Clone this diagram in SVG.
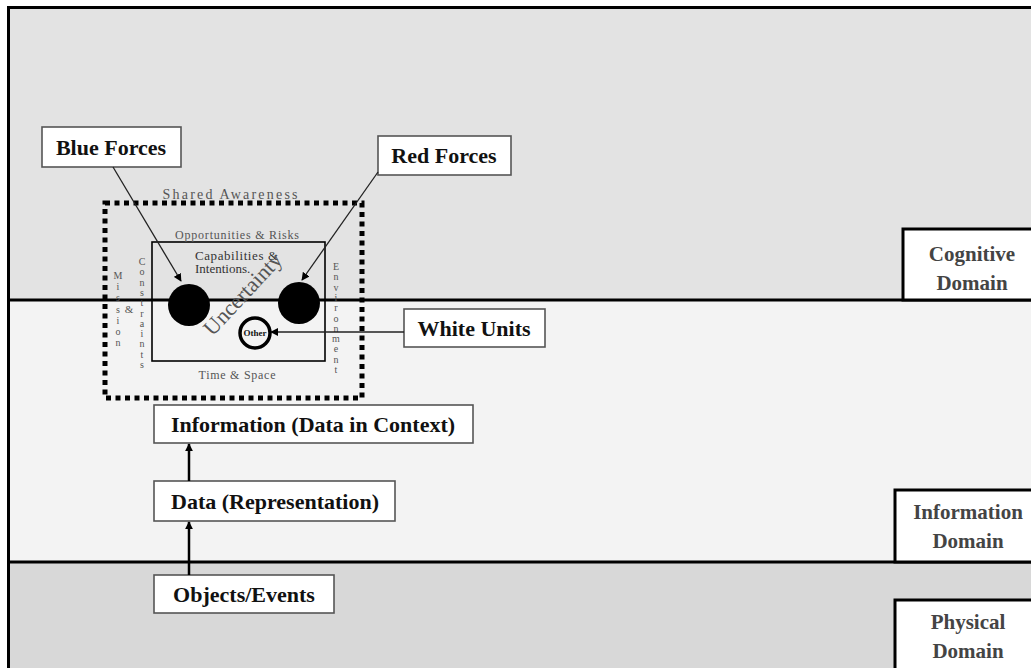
<svg xmlns="http://www.w3.org/2000/svg" width="1031" height="668" viewBox="0 0 1031 668">
<style>
.box{fill:#fff;stroke:#555;stroke-width:1.6}
.dom{fill:#fff;stroke:#000;stroke-width:3}
.bt{font-family:"Liberation Serif","Times New Roman",serif;font-weight:bold;font-size:22px;fill:#111;text-anchor:middle}
.dt{font-family:"Liberation Serif","Times New Roman",serif;font-weight:bold;font-size:21px;fill:#444;text-anchor:middle}
.st{font-family:"Liberation Serif","Times New Roman",serif;fill:#555;text-anchor:middle}
.vt{font-family:"Liberation Serif","Times New Roman",serif;font-size:10px;fill:#555;writing-mode:vertical-rl;text-orientation:upright}
.conn{stroke:#222;stroke-width:1.3;fill:none}
</style>
<defs>
<marker id="ah" viewBox="0 0 10 10" refX="9" refY="5" markerWidth="8" markerHeight="8" markerUnits="userSpaceOnUse" orient="auto">
<path d="M0,0 L10,5 L0,10 z" fill="#000"/>
</marker>
</defs>
<rect x="0" y="0" width="1031" height="668" fill="#fff"/>
<g id="domains">
<rect x="8" y="7" width="1023" height="293" fill="#e3e3e3"/>
<rect x="8" y="300" width="1023" height="262" fill="#f3f3f3"/>
<rect x="8" y="562" width="1023" height="106" fill="#d8d8d8"/>
<line x1="8" y1="7.5" x2="1031" y2="7.5" stroke="#000" stroke-width="3"/>
<line x1="8.5" y1="6" x2="8.5" y2="668" stroke="#000" stroke-width="3"/>
<line x1="8" y1="300" x2="1031" y2="300" stroke="#000" stroke-width="3"/>
<line x1="8" y1="562" x2="1031" y2="562" stroke="#000" stroke-width="3"/>
</g>
<g id="cognitive-domain">
<rect class="dom" x="903" y="229" width="140" height="71"/>
<text class="dt" x="972" y="261">Cognitive</text>
<text class="dt" x="972" y="290">Domain</text>
</g>
<g id="information-domain">
<rect class="dom" x="895" y="490" width="150" height="72"/>
<text class="dt" x="968" y="519">Information</text>
<text class="dt" x="968" y="548">Domain</text>
</g>
<g id="physical-domain">
<rect class="dom" x="895" y="600" width="150" height="80"/>
<text class="dt" x="968" y="629">Physical</text>
<text class="dt" x="968" y="658">Domain</text>
</g>
<g id="shared-awareness">
<rect x="105" y="203" width="257" height="195" fill="none" stroke="#000" stroke-width="5" stroke-dasharray="5 4.5"/>
<text class="st" x="230" y="199" font-size="14" fill="#777" textLength="135" lengthAdjust="spacing">Shared Awareness</text>
</g>
<g id="situation">
<rect x="152" y="242" width="173" height="119" fill="none" stroke="#000" stroke-width="1.6"/>
<text class="st" x="237" y="239" font-size="12" textLength="124" lengthAdjust="spacing">Opportunities &amp; Risks</text>
<text class="st" x="237" y="379" font-size="12" fill="#444" textLength="77" lengthAdjust="spacing">Time &amp; Space</text>
<text x="195" y="260" font-family="'Liberation Serif','Times New Roman',serif" font-size="13" fill="#333" textLength="83" lengthAdjust="spacing">Capabilities &amp;</text>
<text x="195" y="273" font-family="'Liberation Serif','Times New Roman',serif" font-size="13" fill="#333">Intentions.</text>
<text class="st" x="0" y="0" font-size="22" fill="#666" transform="translate(248,299) rotate(-47)">Uncertainty</text>
<text class="vt" x="118" y="270" letter-spacing="0.2">Mission</text>
<text x="129" y="313" font-family="'Liberation Serif','Times New Roman',serif" font-size="11" fill="#555" text-anchor="middle">&amp;</text>
<text class="vt" x="142" y="256" letter-spacing="-0.7">Constraints</text>
<text class="vt" x="336" y="261" letter-spacing="-0.7">Environment</text>
</g>
<g id="blue-unit"><circle cx="189" cy="305" r="21" fill="#000"/></g>
<g id="red-unit"><circle cx="299" cy="303" r="21" fill="#000"/></g>
<g id="other-unit">
<circle cx="255" cy="333" r="15" fill="none" stroke="#000" stroke-width="3.5"/>
<text x="255" y="336" font-family="'Liberation Serif','Times New Roman',serif" font-weight="bold" font-size="9" fill="#111" text-anchor="middle">Other</text>
</g>
<g id="blue-forces">
<rect class="box" x="42" y="127" width="139" height="40"/>
<text class="bt" x="111" y="155">Blue Forces</text>
</g>
<g id="red-forces">
<rect class="box" x="378" y="136" width="133" height="39"/>
<text class="bt" x="444" y="163">Red Forces</text>
</g>
<g id="white-units">
<rect class="box" x="404" y="309" width="141" height="38"/>
<text class="bt" x="474" y="336">White Units</text>
</g>
<g id="information">
<rect class="box" x="154" y="405" width="319" height="38"/>
<text class="bt" x="313" y="432">Information (Data in Context)</text>
</g>
<g id="data">
<rect class="box" x="154" y="481" width="241" height="40"/>
<text class="bt" x="275" y="509">Data (Representation)</text>
</g>
<g id="objects-events">
<rect class="box" x="154" y="575" width="180" height="38"/>
<text class="bt" x="244" y="602">Objects/Events</text>
</g>
<g id="connectors">
<line class="conn" x1="113" y1="167" x2="181" y2="281" marker-end="url(#ah)"/>
<line class="conn" x1="378" y1="172" x2="302" y2="280" marker-end="url(#ah)"/>
<line class="conn" x1="404" y1="332" x2="271" y2="332" marker-end="url(#ah)"/>
<line x1="189" y1="481" x2="189" y2="444" stroke="#000" stroke-width="2.5" marker-end="url(#ah)"/>
<line x1="189" y1="575" x2="189" y2="522" stroke="#000" stroke-width="2.5" marker-end="url(#ah)"/>
</g>
</svg>
